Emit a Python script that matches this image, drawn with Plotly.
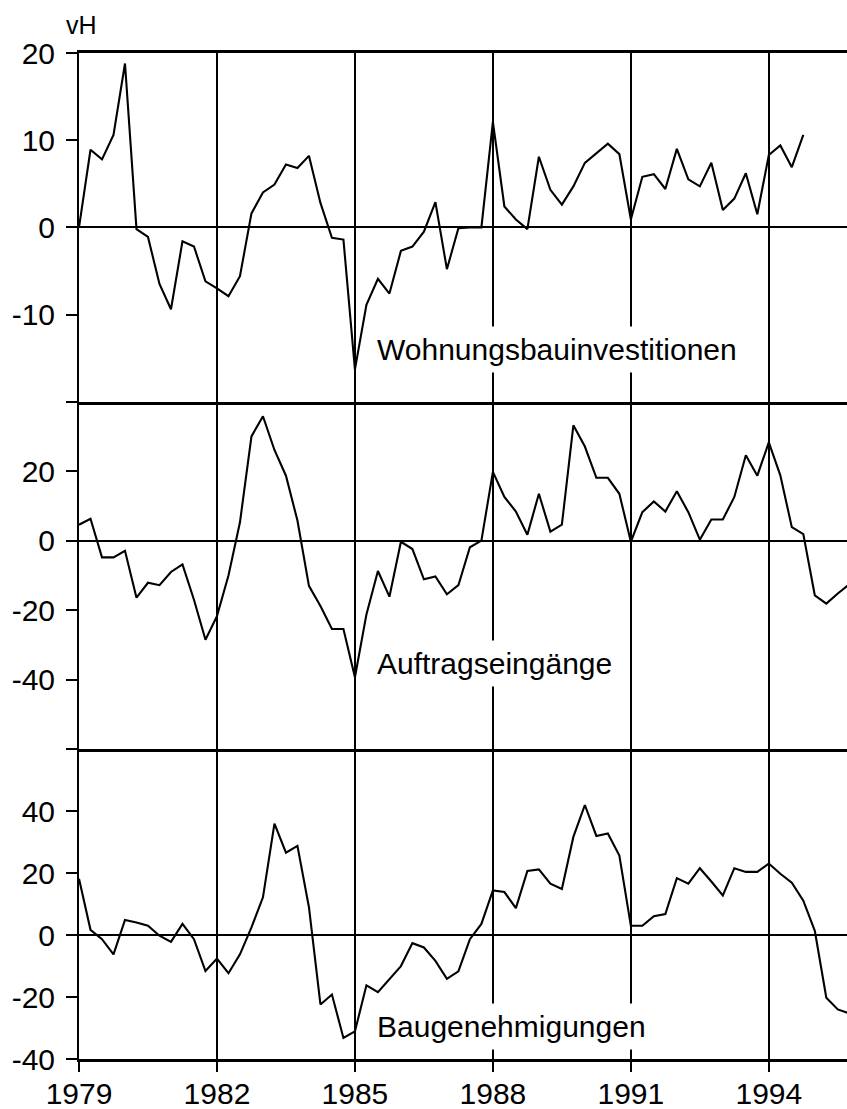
import plotly.graph_objects as go
from plotly.subplots import make_subplots

# quarterly positions, 1979 Q1 ... 1995 Q4
quarters = [1979 + i / 4 for i in range(68)]

wohnungsbau = [0.0, 8.9, 7.8, 10.6, 18.8, -0.2, -1.1, -6.5, -9.4, -1.6,
               -2.2, -6.2, -7.0, -7.9, -5.6, 1.6, 4.0, 4.9, 7.2, 6.8,
               8.2, 2.8, -1.2, -1.4, -16.3, -8.9, -5.9, -7.6, -2.7, -2.2,
               -0.5, 2.9, -4.8, -0.1, 0.0, 0.0, 12.1, 2.4, 0.9, -0.2,
               8.1, 4.3, 2.6, 4.7, 7.4, 8.5, 9.6, 8.4, 0.9, 5.8,
               6.1, 4.4, 9.0, 5.5, 4.7, 7.4, 2.0, 3.3, 6.2, 1.5,
               8.3, 9.4, 6.9, 10.6]

auftrag = [4.6, 6.3, -4.8, -4.8, -2.9, -16.4, -12.1, -12.8, -9.0, -6.8,
           -17.0, -28.5, -21.7, -10.0, 5.3, 30.0, 35.8, 26.1, 18.7, 5.8,
           -13.0, -18.8, -25.4, -25.4, -39.3, -21.2, -8.7, -16.1, -0.3, -2.4,
           -11.1, -10.3, -15.4, -12.8, -1.9, 0.0, 19.8, 12.6, 8.4, 1.7,
           13.5, 2.6, 4.6, 33.2, 27.1, 18.1, 18.1, 13.5, -0.3, 8.2,
           11.3, 8.4, 14.2, 8.2, 0.3, 6.1, 6.1, 12.6, 24.6, 18.7,
           28.3, 18.8, 3.9, 1.9, -15.7, -18.1, -15.2, -12.5]

baugenehmigungen = [18.2, 1.7, -1.3, -6.2, 4.9, 4.1, 3.0, -0.2, -2.2, 3.6,
                    -1.3, -11.6, -7.6, -12.3, -6.2, 2.5, 12.2, 36.0, 26.6, 28.8,
                    9.0, -22.4, -19.2, -33.2, -31.1, -16.2, -18.4, -14.1, -10.0, -2.6,
                    -4.0, -8.3, -14.1, -11.7, -1.3, 3.6, 14.4, 13.9, 8.7, 20.7,
                    21.2, 16.6, 14.9, 31.7, 42.0, 32.0, 32.8, 25.7, 3.0, 3.0,
                    6.1, 6.8, 18.4, 16.6, 21.6, 17.3, 12.8, 21.6, 20.4, 20.4,
                    23.1, 19.8, 16.9, 11.1, 1.4, -20.2, -24.0, -25.3]

year_ticks = [1979, 1982, 1985, 1988, 1991, 1994]
year_labels = ["1979", "1982", "1985", "1988", "1991", "1994"]

panel_names = ["Wohnungsbauinvestitionen", "Auftragseingänge", "Baugenehmigungen"]
panel_ranges = [[-20, 20], [-60, 40], [-40, 60]]
panel_tickvals = [[-20, -10, 0, 10, 20], [-60, -40, -20, 0, 20, 40], [-40, -20, 0, 20, 40, 60]]
panel_ticktext = [["", "-10", "0", "10", "20"], ["", "-40", "-20", "0", "20", ""],
                  ["-40", "-20", "0", "20", "40", ""]]
label_y = [-14.0, -35.2, -29.5]

FONT = "Liberation Sans, Arial, Helvetica, sans-serif"

fig = make_subplots(rows=3, cols=1, shared_xaxes=True, vertical_spacing=0,
                    row_heights=[0.3466, 0.3455, 0.3079])

for r, series in enumerate([wohnungsbau, auftrag, baugenehmigungen], start=1):
    fig.add_trace(go.Scatter(x=quarters[:len(series)], y=series, mode="lines",
                             line=dict(color="black", width=2.1),
                             showlegend=False, hoverinfo="skip"),
                  row=r, col=1)
    fig.update_yaxes(range=panel_ranges[r - 1], tickvals=panel_tickvals[r - 1],
                     ticktext=panel_ticktext[r - 1], showgrid=False, automargin=False,
                     zeroline=True, zerolinecolor="black", zerolinewidth=2,
                     showline=True, linecolor="black", linewidth=2,
                     ticks="outside", ticklen=11, tickwidth=2, tickcolor="black",
                     ticklabelstandoff=5,
                     tickfont=dict(family=FONT, size=30, color="black"),
                     row=r, col=1)
    fig.update_xaxes(range=[1979, 1995.7], tickvals=year_ticks, ticktext=year_labels,
                     showgrid=True, gridcolor="black", gridwidth=1.8, automargin=False,
                     zeroline=False, showline=True, mirror=(r == 1),
                     linecolor="black", linewidth=2.5,
                     ticks="outside" if r == 3 else "", ticklen=10, tickwidth=2,
                     tickcolor="black", showticklabels=(r == 3),
                     ticklabelstandoff=-4,
                     tickfont=dict(family=FONT, size=30, color="black"),
                     row=r, col=1)
    fig.add_annotation(x=1985.33, y=label_y[r - 1], xref=f"x{'' if r == 1 else r}",
                       yref=f"y{'' if r == 1 else r}", text=panel_names[r - 1],
                       showarrow=False, xanchor="left", yanchor="middle",
                       bgcolor="white", borderpad=6,
                       font=dict(family=FONT, size=30, color="black"))

fig.add_annotation(x=-0.019, y=1.028, xref="paper", yref="paper", text="vH",
                   showarrow=False, xanchor="left", yanchor="middle",
                   font=dict(family=FONT, size=25, color="black"))

fig.update_layout(width=847, height=1109, paper_bgcolor="white", plot_bgcolor="white",
                  margin=dict(l=79, r=0, t=53, b=50, autoexpand=False))

# remove the page's default body margin and scrollbars so the figure fills the window
fig.write_html("out.html", config={"displayModeBar": False},
               post_script="document.body.style.margin='0';"
                           "document.documentElement.style.overflow='hidden';"
                           "document.body.style.overflow='hidden';")
